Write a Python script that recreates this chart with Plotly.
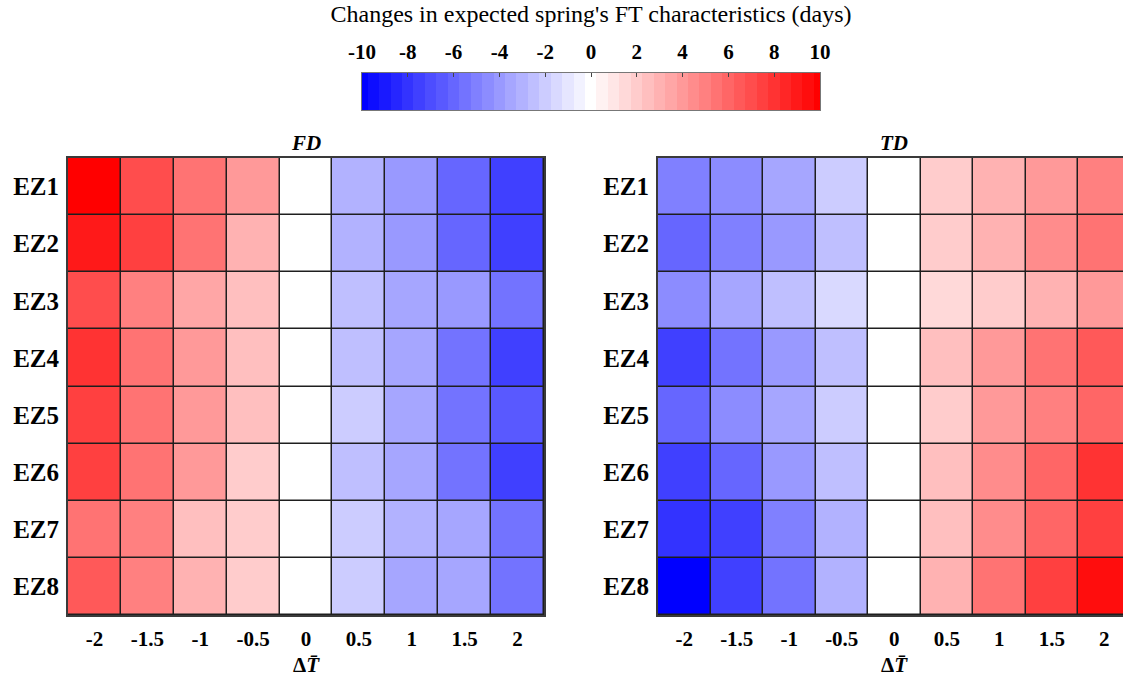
import plotly.graph_objects as go

ez = ["EZ1", "EZ2", "EZ3", "EZ4", "EZ5", "EZ6", "EZ7", "EZ8"]
dT = [-2, -1.5, -1, -0.5, 0, 0.5, 1, 1.5, 2]
dT_labels = ["-2", "-1.5", "-1", "-0.5", "0", "0.5", "1", "1.5", "2"]

fd = [
    [10.0, 6.8, 5.4, 3.9, 0, -2.9, -4.2, -6.2, -7.6],
    [8.8, 7.3, 5.4, 2.9, 0, -2.9, -4.2, -5.8, -7.3],
    [7.1, 4.9, 3.4, 2.4, 0, -2.4, -3.3, -4.2, -5.6],
    [8.0, 5.7, 3.9, 2.4, 0, -2.4, -3.7, -5.7, -7.3],
    [7.3, 5.4, 3.9, 2.4, 0, -1.8, -3.7, -5.3, -6.7],
    [7.3, 5.7, 3.9, 1.8, 0, -2.4, -3.7, -5.3, -7.3],
    [5.7, 4.9, 2.4, 1.8, 0, -1.8, -2.9, -3.7, -5.3],
    [6.7, 5.1, 2.9, 1.8, 0, -1.8, -3.3, -3.7, -5.6],
]

td = [
    [-5.0, -4.3, -3.3, -1.8, 0, 1.8, 2.9, 3.9, 4.9],
    [-5.8, -4.9, -3.9, -2.4, 0, 1.8, 2.9, 4.5, 5.4],
    [-4.3, -3.3, -2.4, -1.5, 0, 1.5, 1.8, 2.9, 3.9],
    [-7.3, -5.3, -3.9, -2.4, 0, 2.4, 3.9, 5.4, 6.7],
    [-6.2, -4.7, -3.7, -1.8, 0, 1.8, 3.9, 4.9, 6.2],
    [-7.3, -5.8, -4.2, -2.4, 0, 2.4, 4.4, 6.2, 8.0],
    [-8.1, -7.5, -4.9, -2.9, 0, 2.4, 4.4, 6.2, 7.6],
    [-10.0, -7.6, -5.7, -2.9, 0, 2.9, 5.4, 7.3, 9.3],
]

cb_ticks = [-10, -8, -6, -4, -2, 0, 2, 4, 6, 8, 10]
cb_labels = ["-10", "-8", "-6", "-4", "-2", "0", "2", "4", "6", "8", "10"]

# discrete blue-white-red colorscale, 0.5-day steps centered on multiples of 0.5
ZMIN, ZMAX, STEP = -10.0, 10.0, 0.5
def col(v):
    f = max(0.0, 1 - abs(v) / 10.0)
    c = int(round(255 * f))
    return f"rgb({c},{c},255)" if v < 0 else f"rgb(255,{c},{c})"

n = int((ZMAX - ZMIN) / STEP)
levels = [ZMIN + k * STEP for k in range(n + 1)]
colorscale = []
for c in levels:
    lo = max(ZMIN, c - STEP / 2)
    hi = min(ZMAX, c + STEP / 2)
    colorscale.append([(lo - ZMIN) / (ZMAX - ZMIN), col(c)])
    colorscale.append([(hi - ZMIN) / (ZMAX - ZMIN), col(c)])

W, H = 1123, 683
FONT = "Liberation Serif"

# colorbar geometry (pixels)
CB_L, CB_R, CB_T, CB_B = 362, 820, 73, 110

fig = go.Figure()
fig.add_trace(go.Heatmap(z=fd, x=dT, y=ez, coloraxis="coloraxis", xgap=1.5, ygap=1.5,
                         xaxis="x", yaxis="y", hoverinfo="skip"))
fig.add_trace(go.Heatmap(z=td, x=dT, y=ez, coloraxis="coloraxis", xgap=1.5, ygap=1.5,
                         xaxis="x2", yaxis="y2", hoverinfo="skip"))
# colour bar drawn as a one-row heatmap of the scale levels
fig.add_trace(go.Heatmap(z=[levels], x=levels, y=[0], coloraxis="coloraxis",
                         xaxis="x3", yaxis="y3", hoverinfo="skip"))

ytop = 1 - 158 / H
ybot = 1 - 615 / H
cell_td = 52.5
td_units = (W - 658) / cell_td * 0.5

xtick_font = dict(family=FONT, size=21, color="black", weight="bold")
ytick_font = dict(family=FONT, size=25, color="black", weight="bold")
common_x = dict(tickvals=dT, ticktext=dT_labels, tickfont=xtick_font, showgrid=False,
                zeroline=False, showline=True, linecolor="#3a3a3a", linewidth=2,
                mirror=True, ticks="", ticklabelstandoff=4, automargin=False)
common_y = dict(tickfont=ytick_font, showgrid=False, zeroline=False, showline=True,
                linecolor="#3a3a3a", linewidth=2, ticks="", autorange="reversed",
                ticklabelstandoff=2, automargin=False)

fig.update_layout(
    width=W, height=H,
    margin=dict(l=0, r=0, t=0, b=0, autoexpand=False),
    paper_bgcolor="white",
    plot_bgcolor="#1e1e1e",
    font=dict(family=FONT, color="black"),
    xaxis=dict(domain=[68 / W, 544 / W], range=[-2.25, 2.25], anchor="y", **common_x),
    yaxis=dict(domain=[ybot, ytop], anchor="x", mirror=True, **common_y),
    xaxis2=dict(domain=[658 / W, 1.0], range=[-2.25, -2.25 + td_units], anchor="y2", **common_x),
    yaxis2=dict(domain=[ybot, ytop], anchor="x2", mirror=False, **common_y),
    xaxis3=dict(domain=[CB_L / W, CB_R / W], range=[ZMIN, ZMAX], anchor="y3", side="top",
                tickvals=cb_ticks, ticktext=cb_labels, showgrid=False, zeroline=False,
                showline=True, mirror=True, linecolor="#777", linewidth=1,
                ticks="inside", ticklen=4, tickcolor="#444", tickwidth=1,
                ticklabelstandoff=5, automargin=False,
                tickfont=dict(family=FONT, size=21, color="black", weight="bold"),
                title=dict(text="Changes in expected spring's FT characteristics (days)",
                           font=dict(family=FONT, size=24, color="black"), standoff=10),
                fixedrange=True),
    yaxis3=dict(domain=[1 - CB_B / H, 1 - CB_T / H], anchor="x3", showticklabels=False,
                showgrid=False, zeroline=False, showline=True, mirror=True,
                linecolor="#777", linewidth=1, ticks="", fixedrange=True, automargin=False),
    coloraxis=dict(cmin=ZMIN, cmax=ZMAX, colorscale=colorscale, showscale=False),
    showlegend=False,
)

ann_font = dict(family=FONT, size=21, color="black")
fig.add_annotation(text="<b><i>FD</i></b>", x=0, xref="x", y=1 - 143 / H, yref="paper",
                   showarrow=False, font=ann_font, yanchor="middle")
fig.add_annotation(text="<b><i>TD</i></b>", x=0, xref="x2", y=1 - 143 / H, yref="paper",
                   showarrow=False, font=ann_font, yanchor="middle")
for xr in ("x", "x2"):
    fig.add_annotation(text="<b>Δ<i>T̄</i></b>", x=0, xref=xr, y=1 - 665 / H, yref="paper",
                       showarrow=False, font=ann_font, yanchor="middle")

fig.write_html("out.html")
